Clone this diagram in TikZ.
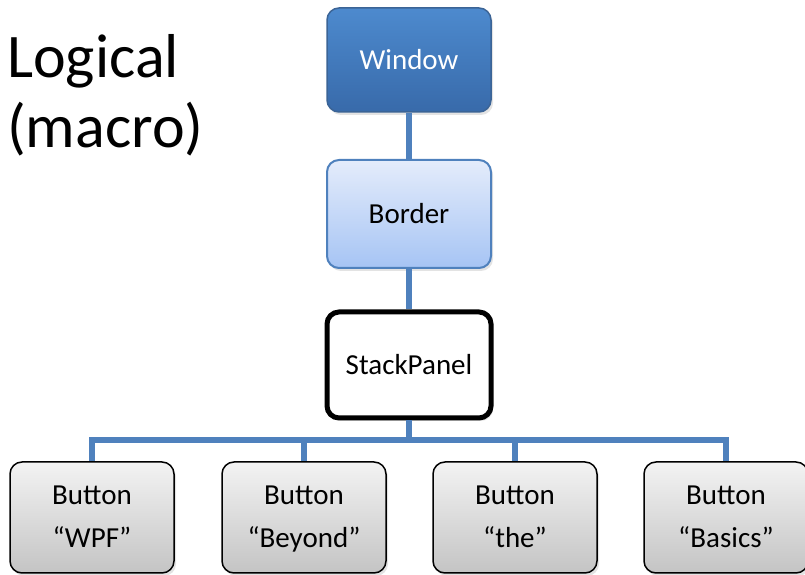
\documentclass[tikz,border=0pt]{standalone}
\usepackage{fontspec}
\setmainfont{Carlito}
\usepackage{xcolor}
\usetikzlibrary{shadows}

\definecolor{linkblue}{HTML}{4F81BD}
\definecolor{winblue}{HTML}{3B6496}

\begin{document}
\begin{tikzpicture}[x=1pt, y=1pt,
    box/.style={rounded corners=12pt, minimum width=164pt, minimum height=108pt,
        align=center, font=\fontsize{29}{43}\selectfont,
        drop shadow={opacity=0.22, shadow xshift=2pt, shadow yshift=-3pt}},
    winbox/.style={box, draw=winblue, line width=1.5pt,
        top color={rgb,255:red,77;green,138;blue,206}, bottom color={rgb,255:red,56;green,106;blue,170},
        text=white, minimum height=104pt},
    borderbox/.style={box, draw=linkblue, line width=2pt,
        top color={rgb,255:red,228;green,236;blue,251}, bottom color={rgb,255:red,166;green,196;blue,244}},
    panelbox/.style={box, draw=black, line width=5pt, fill=white, minimum height=106pt},
    buttonbox/.style={box, draw=black, line width=1.5pt,
        top color={rgb,255:red,243;green,243;blue,243}, bottom color={rgb,255:red,196;green,196;blue,196},
        minimum height=111pt},
    link/.style={draw=linkblue, line width=5.5pt}]

    \useasboundingbox (0, 0) rectangle (805, 575);

    \node[anchor=base west, inner sep=0pt, align=left, font=\fontsize{62}{70}\selectfont]
        (title) at (7, 427) {Logical\\(macro)};

    % tree: window -> border -> stack panel
    \node[winbox] (window) at (409, 515) {Window};
    \node[borderbox] (border) at (409, 361) {Border};
    \node[panelbox] (panel) at (409, 210) {StackPanel};

    % the four buttons
    \node[buttonbox] (btnA) at (92, 57.5) {\strut Button\\\strut “WPF”};
    \node[buttonbox] (btnB) at (304, 57.5) {\strut Button\\\strut “Beyond”};
    \node[buttonbox] (btnC) at (515, 57.5) {\strut Button\\\strut “the”};
    \node[buttonbox] (btnD) at (726, 57.5) {\strut Button\\\strut “Basics”};

    \coordinate (bus) at (409, 135);

    \draw[link] (window) -- (border);
    \draw[link] (border) -- (panel);
    \draw[link] (panel) -- (bus);
    \foreach \b in {btnA, btnB, btnC, btnD}
        \draw[link] (bus) -| (\b);
\end{tikzpicture}
\end{document}
